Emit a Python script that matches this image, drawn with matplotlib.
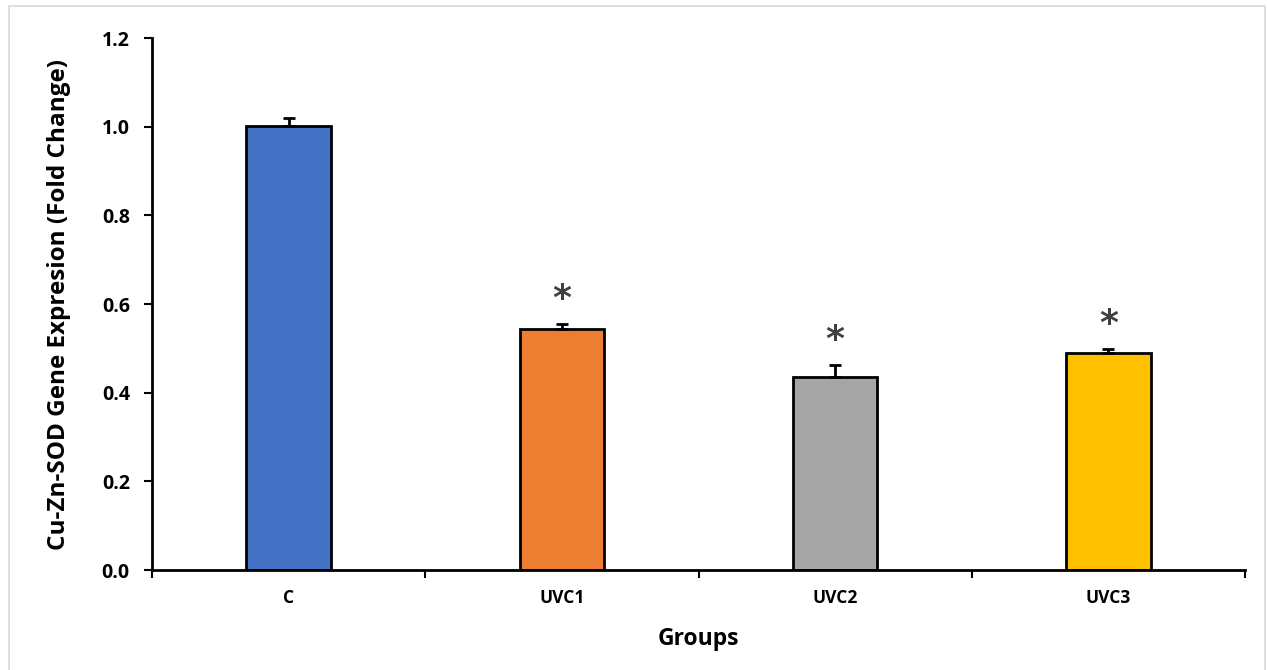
import matplotlib
matplotlib.use("Agg")
import matplotlib.pyplot as plt
from matplotlib.patches import Rectangle
import numpy as np

categories = ["C", "UVC1", "UVC2", "UVC3"]
values = [1.002, 0.544, 0.435, 0.489]
errors = [0.018, 0.010, 0.027, 0.009]
significant = [False, True, True, True]
colors = ["#4472C4", "#ED7D31", "#A5A5A5", "#FFC000"]
yticks = [0.0, 0.2, 0.4, 0.6, 0.8, 1.0, 1.2]

plt.rcParams['font.family'] = ['Open Sans', 'DejaVu Sans']

fig = plt.figure(figsize=(12.67, 6.70), dpi=100)
fig.patches.append(Rectangle((9/1267, -0.01), (1265-9)/1267, (670-6)/670 + 0.01,
                             transform=fig.transFigure, fill=False,
                             edgecolor="#d9d9d9", linewidth=1.2))
ax = fig.add_axes([152/1267, 100/670, (1245-152)/1267, (570-38)/670])

x = np.arange(len(categories))
ax.bar(x, values, width=0.31, color=colors, edgecolor="black", linewidth=2, zorder=2)
ax.errorbar(x, values, yerr=[np.zeros(len(errors)), errors], fmt="none",
            ecolor="black", elinewidth=2, capsize=4, capthick=2, zorder=3)
for xi, v, e, s in zip(x, values, errors, significant):
    if s:
        ax.text(xi, v + e + 0.018, "*", ha="center", va="bottom",
                fontsize=26, fontweight="bold", color="#404040", family=['DejaVu Sans'])

ax.set_xlim(-0.5, len(categories) - 0.5)
ax.set_ylim(0, 1.2)
ax.set_yticks(yticks)
ax.set_yticklabels([f"{t:.1f}" for t in yticks], fontsize=14, fontweight="bold")
ax.set_xticks(x)
ax.set_xticklabels(categories, fontsize=12.5, fontweight="bold")
ax.tick_params(axis="x", which="major", length=0, pad=14)
ax.set_xticks(np.arange(len(categories) + 1) - 0.5, minor=True)
ax.tick_params(axis="x", which="minor", length=6, width=1.5, direction="out")
ax.tick_params(axis="y", length=6, width=1.5, direction="out", pad=10)
for side in ["top", "right"]:
    ax.spines[side].set_visible(False)
for side in ["left", "bottom"]:
    ax.spines[side].set_linewidth(2)

ax.set_ylabel("Cu-Zn-SOD Gene Expresion (Fold Change)", fontsize=17.5, fontweight="bold", labelpad=22)
ax.set_xlabel("Groups", fontsize=16.5, fontweight="bold", labelpad=14)

fig.savefig("out.png", dpi=100)
